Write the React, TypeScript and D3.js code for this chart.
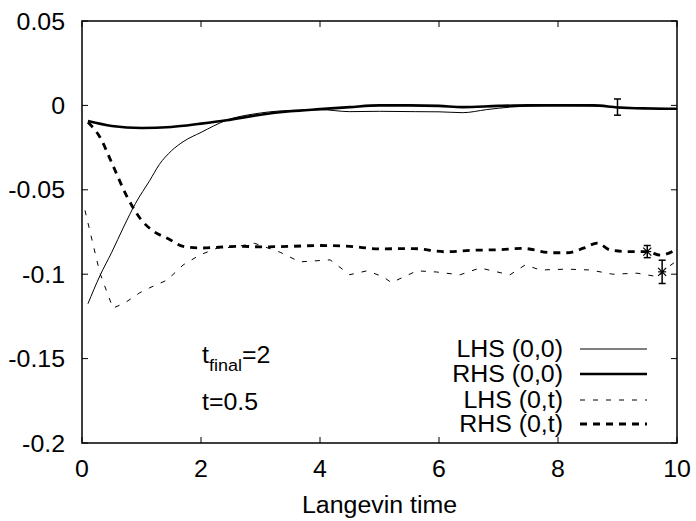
import React from "react";
import * as d3 from "d3";

const xTicks = [0, 2, 4, 6, 8, 10];
const yTicks = [0.05, 0, -0.05, -0.1, -0.15, -0.2];
const yTickLabels = ["0.05", "0", "-0.05", "-0.1", "-0.15", "-0.2"];

// LHS (0,0) thin solid
const lhs00T = [0.1, 0.3, 0.5, 0.7, 0.9, 1.14, 1.3, 1.5, 1.7, 2.0, 2.43, 3.0, 3.6, 4.0, 4.5, 5.0, 5.6, 6.0, 6.4, 6.8, 7.2, 7.6, 8.0, 8.5, 9.0, 9.5, 10];
const lhs00V = [-0.1175, -0.101, -0.087, -0.072, -0.058, -0.0444, -0.035, -0.027, -0.0215, -0.016, -0.0088, -0.0045, -0.0028, -0.0025, -0.0037, -0.0035, -0.0037, -0.0038, -0.0043, -0.0025, -0.001, -0.0003, 0.0, -0.0002, -0.001, -0.0015, -0.002];

// RHS (0,0) thick solid
const rhs00T = [0.1, 0.5, 1.0, 1.5, 2.0, 2.43, 3.0, 3.5, 4.0, 4.5, 5.0, 5.5, 6.0, 6.4, 7.0, 7.5, 8.0, 8.6, 9.0, 9.5, 10];
const rhs00V = [-0.0093, -0.0122, -0.0134, -0.0128, -0.0108, -0.0088, -0.0055, -0.0035, -0.0022, -0.001, 0.0, 0.0, -0.0003, -0.001, -0.0003, 0.0, 0.0, 0.0, -0.0012, -0.0018, -0.002];

// LHS (0,t) thin dashed
const lhs0tT = [0.05, 0.3, 0.52, 0.72, 0.97, 1.14, 1.43, 1.7, 1.98, 2.27, 2.54, 2.9, 3.33, 3.66, 4.17, 4.5, 4.79, 5.06, 5.2, 5.63, 5.96, 6.35, 6.69, 7.19, 7.45, 7.7, 8.15, 8.54, 8.92, 9.33, 9.68, 9.88, 10];
const lhs0tV = [-0.0622, -0.0992, -0.1201, -0.117, -0.111, -0.108, -0.1035, -0.0945, -0.0886, -0.0846, -0.084, -0.0817, -0.087, -0.0927, -0.0915, -0.1003, -0.098, -0.1015, -0.105, -0.098, -0.0987, -0.1004, -0.0963, -0.1004, -0.0945, -0.0975, -0.097, -0.0975, -0.1, -0.0994, -0.1015, -0.095, -0.092];

// RHS (0,t) thick dashed
const rhs0tT = [0.1, 0.3, 0.5, 0.76, 1.0, 1.2, 1.45, 1.7, 2.0, 2.3, 2.7, 3.0, 3.5, 4.0, 4.5, 5.0, 5.56, 6.1, 6.6, 7.0, 7.4, 7.9, 8.15, 8.43, 8.66, 8.88, 9.2, 9.5, 9.72, 10];
const rhs0tV = [-0.01, -0.0187, -0.034, -0.0543, -0.068, -0.0745, -0.079, -0.0835, -0.0845, -0.084, -0.0835, -0.0838, -0.0835, -0.083, -0.0835, -0.085, -0.0848, -0.0867, -0.0858, -0.0855, -0.0847, -0.0873, -0.0873, -0.0846, -0.0816, -0.0857, -0.0866, -0.0866, -0.0887, -0.085];

// error bars
const errT = [9.0, 9.5, 9.75];
const errV = [-0.001, -0.0866, -0.0986];
const errE = [0.0048, 0.0036, 0.0069];
const errStar = [false, true, true];

const legendLabels = ["LHS (0,0)", "RHS (0,0)", "LHS (0,t)", "RHS (0,t)"];

const W = 696, H = 521;
const left = 82, right = 677, top = 21, bottom = 443;
const FONT = "'Liberation Sans', Arial, Helvetica, sans-serif";
const FS = 23.5;
const SX = 1.06;

const styles = [
  { w: 1, dash: "" },
  { w: 2.6, dash: "" },
  { w: 1, dash: "5,8" },
  { w: 2.8, dash: "7,6" },
];

function T({ x, y, anchor = "start", children, size = FS }: any) {
  return (
    <text
      transform={`translate(${x},${y}) scale(${SX},1)`}
      textAnchor={anchor}
      fontFamily={FONT}
      fontSize={size}
      fill="#000"
    >
      {children}
    </text>
  );
}

export default function App() {
  const x = d3.scaleLinear().domain([0, 10]).range([left, right]);
  const y = d3.scaleLinear().domain([-0.2, 0.05]).range([bottom, top]);

  const mk = (ts: number[], vs: number[], curve: any) =>
    d3
      .line<number>()
      .x((_, i) => x(ts[i]))
      .y((v) => y(v))
      .curve(curve)(vs) || "";

  const series = [
    mk(lhs00T, lhs00V, d3.curveMonotoneX),
    mk(rhs00T, rhs00V, d3.curveMonotoneX),
    mk(lhs0tT, lhs0tV, d3.curveLinear),
    mk(rhs0tT, rhs0tV, d3.curveMonotoneX),
  ];

  const tickLen = 6;
  const legendRight = 563;
  const legendBase = [357, 382, 408, 432];

  return (
    <svg width={W} height={H} style={{ position: "absolute", left: 0, top: 0, background: "#fff" }}>
      <rect x={0} y={0} width={W} height={H} fill="#fff" />
      {/* ticks */}
      {xTicks.map((t) => (
        <g key={"xt" + t}>
          <line x1={x(t)} x2={x(t)} y1={bottom} y2={bottom - tickLen} stroke="#000" strokeWidth={1} />
          <line x1={x(t)} x2={x(t)} y1={top} y2={top + tickLen} stroke="#000" strokeWidth={1} />
          <T x={x(t)} y={477} anchor="middle">{String(t)}</T>
        </g>
      ))}
      {yTicks.map((t, i) => (
        <g key={"yt" + t}>
          <line x1={left} x2={left + tickLen} y1={y(t)} y2={y(t)} stroke="#000" strokeWidth={1} />
          <line x1={right} x2={right - tickLen} y1={y(t)} y2={y(t)} stroke="#000" strokeWidth={1} />
          <T x={65} y={y(t) + 8.5} anchor="end">{yTickLabels[i]}</T>
        </g>
      ))}
      {/* series */}
      {series.map((d, i) => (
        <path
          key={"s" + i}
          d={d}
          fill="none"
          stroke="#000"
          strokeWidth={styles[i].w}
          strokeDasharray={styles[i].dash || undefined}
        />
      ))}
      {/* error bars */}
      {errT.map((t, i) => {
        const cx = x(t);
        const y1 = y(errV[i] + errE[i]);
        const y2 = y(errV[i] - errE[i]);
        const cy = y(errV[i]);
        const s = 4;
        return (
          <g key={"e" + i} stroke="#000" strokeWidth={1.5}>
            <line x1={cx} x2={cx} y1={y1} y2={y2} />
            <line x1={cx - 3.5} x2={cx + 3.5} y1={y1} y2={y1} />
            <line x1={cx - 3.5} x2={cx + 3.5} y1={y2} y2={y2} />
            {errStar[i] && (
              <g strokeWidth={1.2}>
                <line x1={cx - s} x2={cx + s} y1={cy} y2={cy} />
                <line x1={cx - s} x2={cx + s} y1={cy - s} y2={cy + s} />
                <line x1={cx - s} x2={cx + s} y1={cy + s} y2={cy - s} />
              </g>
            )}
          </g>
        );
      })}
      {/* frame */}
      <rect x={left} y={top} width={right - left} height={bottom - top} fill="none" stroke="#000" strokeWidth={1.5} />
      {/* legend */}
      {legendLabels.map((l, i) => (
        <g key={"lg" + i}>
          <T x={legendRight} y={legendBase[i]} anchor="end">{l}</T>
          <line
            x1={580}
            x2={647}
            y1={legendBase[i] - 8}
            y2={legendBase[i] - 8}
            stroke="#000"
            strokeWidth={styles[i].w}
            strokeDasharray={styles[i].dash || undefined}
          />
        </g>
      ))}
      {/* annotations */}
      <text transform={`translate(202,363) scale(${SX},1)`} fontFamily={FONT} fontSize={FS} fill="#000">
        t
        <tspan fontSize={17} dy={8}>final</tspan>
        <tspan dy={-8}>=2</tspan>
      </text>
      <T x={202} y={410}>t=0.5</T>
      <T x={(left + right) / 2} y={513} anchor="middle">Langevin time</T>
    </svg>
  );
}
